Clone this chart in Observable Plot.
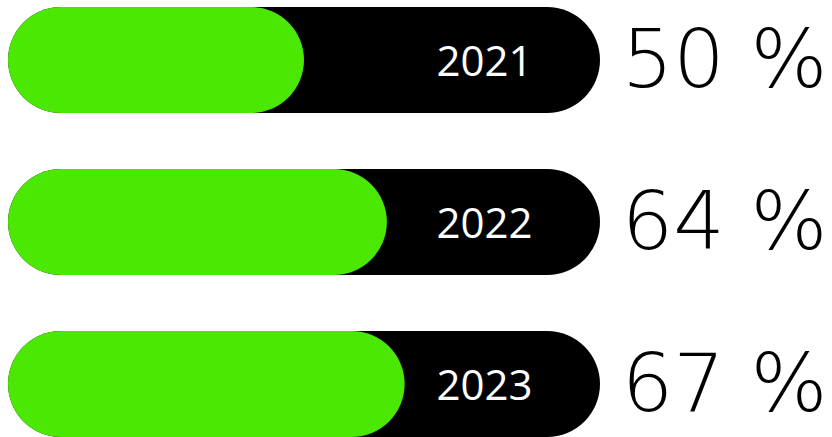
<!DOCTYPE html>
<html>
<head>
<meta charset="utf-8">
<script src="https://cdn.jsdelivr.net/npm/d3@7"></script>
<script src="https://cdn.jsdelivr.net/npm/@observablehq/plot@0.6"></script>
<style>
  html, body { margin: 0; padding: 0; background: #ffffff; }
  #chart { width: 832px; height: 437px; overflow: hidden; }
</style>
</head>
<body>
<div id="chart"></div>
<script>
const years = ["2021", "2022", "2023"];
const percents = [50, 64, 67];
const maxPercent = 100;

const data = years.map((year, i) => ({ year, value: percents[i], total: maxPercent }));

const chart = Plot.plot({
  width: 832,
  height: 437,
  marginTop: 7,
  marginBottom: 0,
  marginLeft: 8,
  marginRight: 232,
  x: { domain: [0, maxPercent], axis: null },
  y: { domain: years, axis: null, paddingInner: 0.346, paddingOuter: 0 },
  style: { background: "#ffffff", overflow: "visible" },
  marks: [
    Plot.barX(data, { y: "year", x1: 0, x2: "total", fill: "#000000", rx: 53, ry: 53 }),
    Plot.barX(data, { y: "year", x1: 0, x2: "value", fill: "#4BE803", rx: 53, ry: 53 }),
    Plot.text(data, {
      y: "year", text: "year", frameAnchor: "right", textAnchor: "middle", dx: -116, dy: 2,
      fill: "#ffffff", fontSize: 42, fontFamily: "'Open Sans', 'Noto Sans', sans-serif"
    }),
    Plot.text(data, {
      y: "year", text: d => `${d.value} %`, frameAnchor: "right", textAnchor: "end", dx: 227, dy: 1,
      fill: "#000000", fontSize: 81, fontWeight: 200,
      fontFamily: "'DejaVu Sans', sans-serif"
    })
  ]
});
document.getElementById("chart").appendChild(chart);
</script>
</body>
</html>
